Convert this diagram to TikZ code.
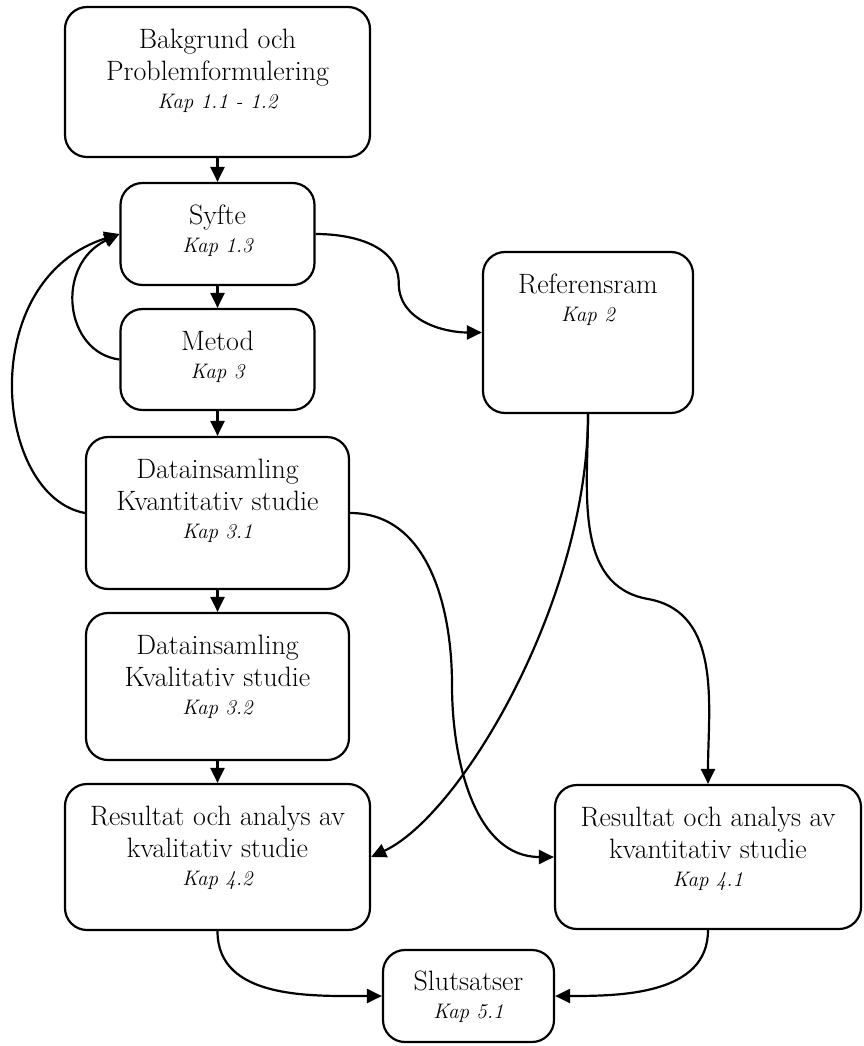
\documentclass[tikz,border=0pt]{standalone}
\usepackage{tikz}
\usetikzlibrary{
    arrows.meta,
    positioning,
    calc
}
\newcommand{\kapfont}{\fontsize{21}{24}\selectfont\itshape}
\tikzset{
    box/.style={
        rectangle, rounded corners=22pt, draw=black, line width=2.2pt,
        fill=white, inner sep=0pt
    },
    boxtxt/.style={
        anchor=north, align=center, inner sep=0pt,
        font=\fontsize{28}{32}\selectfont
    },
    arr/.style={-{Triangle[length=15pt, width=14pt]}, line width=2.2pt, black},
}

\begin{document}
\begin{tikzpicture}[x=1pt, y=-1pt]
    \useasboundingbox (0,0) rectangle (863,1046);

    % boxes
    \node [box, minimum width=305pt, minimum height=150pt] (bak) at (217.5,82) {};
    \node [box, minimum width=194pt, minimum height=102pt] (syfte) at (217.5,234) {};
    \node [box, minimum width=194pt, minimum height=101pt] (metod) at (217.5,359.5) {};
    \node [box, minimum width=263pt, minimum height=152pt] (kvant) at (217.5,513) {};
    \node [box, minimum width=263pt, minimum height=147pt] (kval) at (217.5,686.5) {};
    \node [box, minimum width=305pt, minimum height=146pt] (reskval) at (217.5,857) {};
    \node [box, minimum width=210pt, minimum height=161pt] (ref) at (588,332.5) {};
    \node [box, minimum width=306pt, minimum height=144pt] (reskvant) at (708,857) {};
    \node [box, minimum width=171pt, minimum height=92pt] (slut) at (468.5,996) {};

    % texts
    \node [boxtxt, below=23pt of bak.north] (bak-t)
        {Bakgrund och\\Problemformulering\\[-4pt]{\kapfont Kap 1.1 - 1.2}};
    \node [boxtxt, below=23pt of syfte.north] (syfte-t)
        {Syfte\\[-4pt]{\kapfont Kap 1.3}};
    \node [boxtxt, below=23pt of metod.north] (metod-t)
        {Metod\\[-4pt]{\kapfont Kap 3}};
    \node [boxtxt, below=23pt of kvant.north] (kvant-t)
        {Datainsamling\\Kvantitativ studie\\[-4pt]{\kapfont Kap 3.1}};
    \node [boxtxt, below=23pt of kval.north] (kval-t)
        {Datainsamling\\Kvalitativ studie\\[-4pt]{\kapfont Kap 3.2}};
    \node [boxtxt, below=23pt of reskval.north] (reskval-t)
        {Resultat och analys av\\kvalitativ studie\\[-4pt]{\kapfont Kap 4.2}};
    \node [boxtxt, below=23pt of ref.north] (ref-t)
        {Referensram\\[-4pt]{\kapfont Kap 2}};
    \node [boxtxt, below=23pt of reskvant.north] (reskvant-t)
        {Resultat och analys av\\kvantitativ studie\\[-4pt]{\kapfont Kap 4.1}};
    \node [boxtxt, below=22pt of slut.north] (slut-t)
        {Slutsatser\\[-4pt]{\kapfont Kap 5.1}};

    % main column
    \draw [arr] (bak) -- (syfte);
    \draw [arr] (syfte) -- (metod);
    \draw [arr] (metod) -- (kvant);
    \draw [arr] (kvant) -- (kval);
    \draw [arr] (kval) -- (reskval);

    % back to Syfte
    \draw [arr] (metod.west) .. controls +(-55,-7) and +(-65,31) .. (syfte.west);
    \draw [arr] (kvant.west) .. controls +(-91,-17) and +(-145,46) .. (syfte.west);

    % side branches
    \draw [arr] (syfte.east) to[out=0, in=90] ($(syfte.east)!.5!(ref.west)$)
        to[out=-90, in=180] (ref.west);
    \draw [arr] (kvant.east) to[out=0, in=90] ($(kvant.east)!.5!(reskvant.west)$)
        to[out=-90, in=180] (reskvant.west);
    \draw [arr] (ref.south) to[out=-90, in=25, out distance=185pt, in distance=100pt] (reskval.east);
    \draw [arr] (ref.south) to[out=-90, in=170] ($(ref.south)!.5!(reskvant.north)$)
        to[out=-10, in=90] (reskvant.north);

    % to Slutsatser
    \draw [arr] (reskval.south) to[out=-90, in=180] (slut.west);
    \draw [arr] (reskvant.south) to[out=-90, in=0] (slut.east);

\end{tikzpicture}
\end{document}
